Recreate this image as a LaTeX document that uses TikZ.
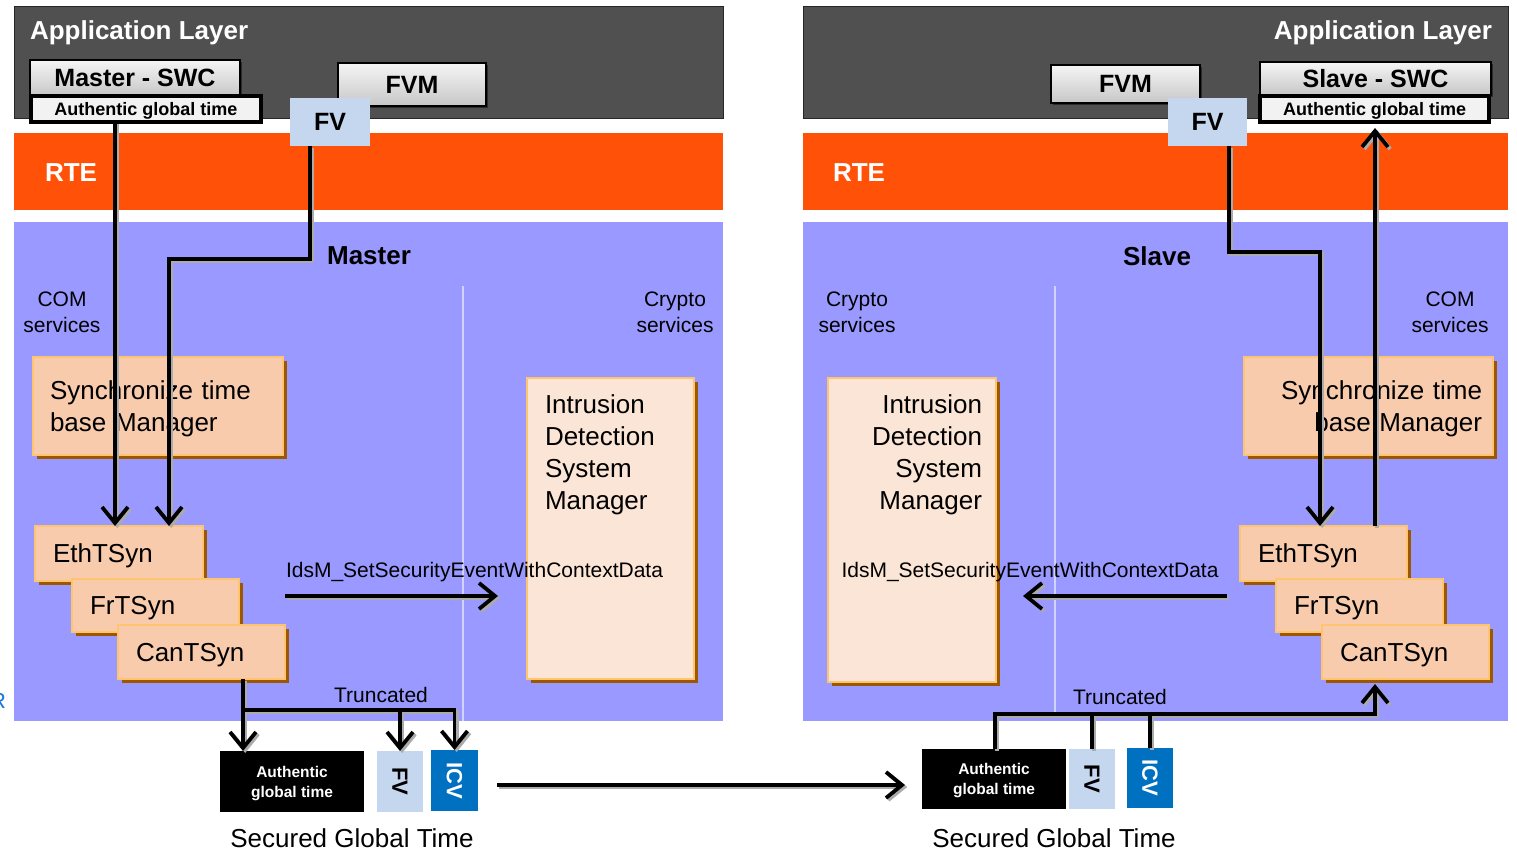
\documentclass[tikz,border=0pt]{standalone}
\usepackage{fontspec}
\setmainfont{Liberation Sans}
\usetikzlibrary{arrows.meta,shadows}

\newcommand\fsz[2]{\fontsize{#1}{#2}\selectfont}

\definecolor{applayer}{HTML}{505050}
\definecolor{applayeredge}{HTML}{262626}
\definecolor{rtefill}{HTML}{FF5208}
\definecolor{bswfill}{HTML}{9999FF}
\definecolor{divider}{HTML}{D2D2FF}
\definecolor{peach}{HTML}{F8CBAD}
\definecolor{peachpale}{HTML}{FBE5D6}
\definecolor{peachedge}{HTML}{FFC470}
\definecolor{peachshade}{HTML}{9C5700}
\definecolor{fvfill}{HTML}{C5D7EE}
\definecolor{icvfill}{HTML}{0070C0}
\definecolor{agtfill}{HTML}{F2F2F2}
\definecolor{wireshade}{HTML}{ABABAB}
\definecolor{stray}{HTML}{1A7AD9}

% all signal paths; drawn once as a grey offset shade, then in black
\newcommand\signalpaths[1]{%
  \draw[#1, headed] (dropL |- agtL.south) -- (dropL |- ethL.north);
  \draw[#1, headed] (fvdropL |- fvL.south) |- (bendL) -- (bendL |- ethL.north);
  \draw[#1, headed] (truncL |- canL.south) -- (truncL |- blkL.north);
  \draw[#1, headed] (truncL) -| (icvL.north);
  \draw[#1, headed] (fvbL.north |- truncL) -- (fvbL.north);
  \draw[#1, headed] (canL.east |- callLend) -- (callLend);
  \draw[#1, headed] (linkA) -- (linkB);
  \draw[#1, headed] (fvdropR |- fvR.south) |- (bendR) -- (bendR |- ethR.north);
  \draw[#1, headed] (riseR |- ethR.north) -- (riseTop);
  \draw[#1] (fvbR.north) -- (fvbR.north |- truncR);
  \draw[#1] (icvR.north) -- (icvR.north |- truncR);
  \draw[#1, headed] (truncR |- blkR.north) |- (canRbase |- truncR) -- (canRbase);
  \draw[#1, headed] (callRstart) -- (callRend);
}

\begin{document}
\begin{tikzpicture}[x=1pt, y=-1pt,
  every node/.style={inner sep=0pt, outer sep=0pt},
  layerbox/.style={draw=applayeredge, line width=1pt, fill=applayer, anchor=north west},
  rtebar/.style={fill=rtefill, anchor=north west},
  bswbox/.style={fill=bswfill, anchor=north west},
  button/.style={draw=black, line width=1.3pt, top color=white!96!black, bottom color=black!22,
    drop shadow={shadow xshift=2pt, shadow yshift=-2pt, opacity=0.45, fill=black},
    anchor=north west, font=\fsz{25}{30}\bfseries},
  agtbox/.style={draw=black, line width=4pt, fill=agtfill, anchor=north west,
    font=\fsz{18}{22}\bfseries, text depth=0pt},
  fvtag/.style={fill=fvfill, anchor=north west, font=\fsz{25}{30}\bfseries},
  module/.style={draw=peachedge, line width=2pt, fill=peach, anchor=north west,
    drop shadow={shadow xshift=4pt, shadow yshift=-4pt, opacity=1, fill=peachshade},
    font=\fsz{26}{32}, text depth=0pt},
  twoline/.style={text depth=32pt},
  idsmbox/.style={module, fill=peachpale},
  idsmtext/.style={font=\fsz{26}{32}},
  whitehead/.style={text=white, font=\fsz{26}{30}\bfseries},
  sectionlabel/.style={font=\fsz{26}{30}\bfseries},
  servicelabel/.style={font=\fsz{21}{26}, align=center},
  calllabel/.style={font=\fsz{21}{26}},
  captionlabel/.style={font=\fsz{26}{30}},
  blackbox/.style={fill=black, text=white, anchor=north west, align=center,
    font=\fsz{15.5}{20}\bfseries, text depth=0pt},
  slotbox/.style={anchor=north west},
  slottext/.style={rotate=-90, font=\fsz{22}{26}\bfseries},
  dividerline/.style={draw=divider, line width=1.2pt},
  wire/.style={line width=3.8pt, draw=black},
  wireunder/.style={line width=3.8pt, draw=wireshade, transform canvas={shift={(2.2pt,-2pt)}}},
  headed/.style={-{Straight Barb[length=16pt,width=26pt]}}
]
\useasboundingbox (0,0) rectangle (1517,853);

% ---------------- master side ----------------
\node[layerbox, minimum width=709pt, minimum height=112pt] (appL) at (14,7) {};
\node[whitehead, anchor=base west] (appLtxt) at (30,40) {Application Layer};
\node[rtebar, minimum width=709pt, minimum height=77pt] (rteL) at (14,133) {};
\node[whitehead, anchor=base west] (rteLtxt) at (45,182) {RTE};
\node[bswbox, minimum width=709pt, minimum height=499pt] (bswL) at (14,222) {};

\node[button, minimum width=210pt, minimum height=36pt] (swcL) at (30,60) {Master - SWC};
\node[agtbox, minimum width=230pt, minimum height=25.5pt] (agtL) at (31,96.5) {Authentic global time};
\node[button, minimum width=148pt, minimum height=43pt] (fvmL) at (338,63) {FVM};
\node[fvtag, minimum width=80pt, minimum height=48pt] (fvL) at (290,98) {FV};

\draw[dividerline] (463,286) -- (463,721);

\node[sectionlabel] (masterTxt) at (369,256) {Master};
\node[servicelabel] (comL) at (62,312.5) {COM\\services};
\node[servicelabel] (cryL) at (675,312.5) {Crypto\\services};

\node[module, twoline, minimum width=250pt, minimum height=98pt, text width=216pt, align=left] (syncL) at (33,357) {Synchronize time\\base Manager};
\node[module, minimum width=168pt, minimum height=55pt, text width=132pt, align=left] (ethL) at (35,526) {EthTSyn};
\node[module, minimum width=167pt, minimum height=53pt, text width=131pt, align=left] (frL) at (72,579) {FrTSyn};
\node[module, minimum width=167pt, minimum height=54pt, text width=131pt, align=left] (canL) at (118,625) {CanTSyn};

\node[idsmbox, minimum width=167pt, minimum height=301pt] (idsmL) at (527,378) {};
\node[idsmtext, align=left, anchor=north west] (idsmLtxt) at (545,395) {Intrusion\\Detection\\System\\Manager};

\node[calllabel, anchor=base] (callL) at (474.5,577) {IdsM\_SetSecurityEventWithContextData};
\node[calllabel, anchor=base] (truncLtxt) at (381,702) {Truncated};

\node[blackbox, minimum width=144pt, minimum height=61pt] (blkL) at (220,751) {Authentic\\global time};
\node[slotbox, fill=fvfill, minimum width=46pt, minimum height=61pt] (fvbL) at (377,751) {};
\node[slottext] (fvbLtxt) at (fvbL.center) {FV};
\node[slotbox, fill=icvfill, minimum width=47pt, minimum height=61pt] (icvL) at (431,750) {};
\node[slottext, text=white] (icvLtxt) at (icvL.center) {ICV};
\node[captionlabel, anchor=base] (secL) at (352,847) {Secured Global Time};

\node[font=\fsz{22}{26}, text=stray, anchor=base east] (strayR) at (6,708) {R};

% ---------------- slave side ----------------
\node[layerbox, minimum width=705pt, minimum height=112pt] (appR) at (803,7) {};
\node[whitehead, anchor=base east] (appRtxt) at (1492,40) {Application Layer};
\node[rtebar, minimum width=705pt, minimum height=77pt] (rteR) at (803,133) {};
\node[whitehead, anchor=base west] (rteRtxt) at (833,182) {RTE};
\node[bswbox, minimum width=705pt, minimum height=499pt] (bswR) at (803,222) {};

\node[button, minimum width=149pt, minimum height=38pt] (fvmR) at (1051,65) {FVM};
\node[button, minimum width=231pt, minimum height=33pt] (swcR) at (1260,62) {Slave - SWC};
\node[agtbox, minimum width=229pt, minimum height=25.5pt] (agtR) at (1260,96.5) {Authentic global time};
\node[fvtag, minimum width=79pt, minimum height=48pt] (fvR) at (1168,98) {FV};

\draw[dividerline] (1055,286) -- (1055,714);

\node[sectionlabel] (slaveTxt) at (1157,256) {Slave};
\node[servicelabel] (cryR) at (857,312.5) {Crypto\\services};
\node[servicelabel] (comR) at (1450,312.5) {COM\\services};

\node[module, twoline, minimum width=249pt, minimum height=98pt, text width=227pt, align=right] (syncR) at (1244,357) {Synchronize time\\base Manager};
\node[module, minimum width=167pt, minimum height=55pt, text width=131pt, align=left] (ethR) at (1240,526) {EthTSyn};
\node[module, minimum width=167pt, minimum height=53pt, text width=131pt, align=left] (frR) at (1276,579) {FrTSyn};
\node[module, minimum width=167pt, minimum height=54pt, text width=131pt, align=left] (canR) at (1322,625) {CanTSyn};

\node[idsmbox, minimum width=168pt, minimum height=304pt] (idsmR) at (828,378) {};
\node[idsmtext, align=right, anchor=north east] (idsmRtxt) at (982,395) {Intrusion\\Detection\\System\\Manager};

\node[calllabel, anchor=base] (callR) at (1030,577) {IdsM\_SetSecurityEventWithContextData};
\node[calllabel, anchor=base] (truncRtxt) at (1120,704) {Truncated};

\node[blackbox, minimum width=144pt, minimum height=60pt] (blkR) at (922,749) {Authentic\\global time};
\node[slotbox, fill=fvfill, minimum width=46pt, minimum height=60pt] (fvbR) at (1069,749) {};
\node[slottext] (fvbRtxt) at (fvbR.center) {FV};
\node[slotbox, fill=icvfill, minimum width=46pt, minimum height=60pt] (icvR) at (1127,748) {};
\node[slottext, text=white] (icvRtxt) at (icvR.center) {ICV};
\node[captionlabel, anchor=base] (secR) at (1054,847) {Secured Global Time};

% ---------------- signal paths ----------------
\coordinate (dropL) at (115,0);
\coordinate (fvdropL) at (310,0);
\coordinate (bendL) at (169,259);
\coordinate (truncL) at (243,710);
\coordinate (callLend) at (498,596);
\coordinate (linkA) at (497,785);
\coordinate (linkB) at (905,785);
\coordinate (fvdropR) at (1229,0);
\coordinate (bendR) at (1320,252);
\coordinate (riseR) at (1375,0);
\coordinate (riseTop) at (1375,128);
\coordinate (truncR) at (995,714);
\coordinate (canRbase) at (1375,684);
\coordinate (callRstart) at (1227,596);
\coordinate (callRend) at (1023,596);

\signalpaths{wireunder}
\signalpaths{wire}
\end{tikzpicture}
\end{document}
